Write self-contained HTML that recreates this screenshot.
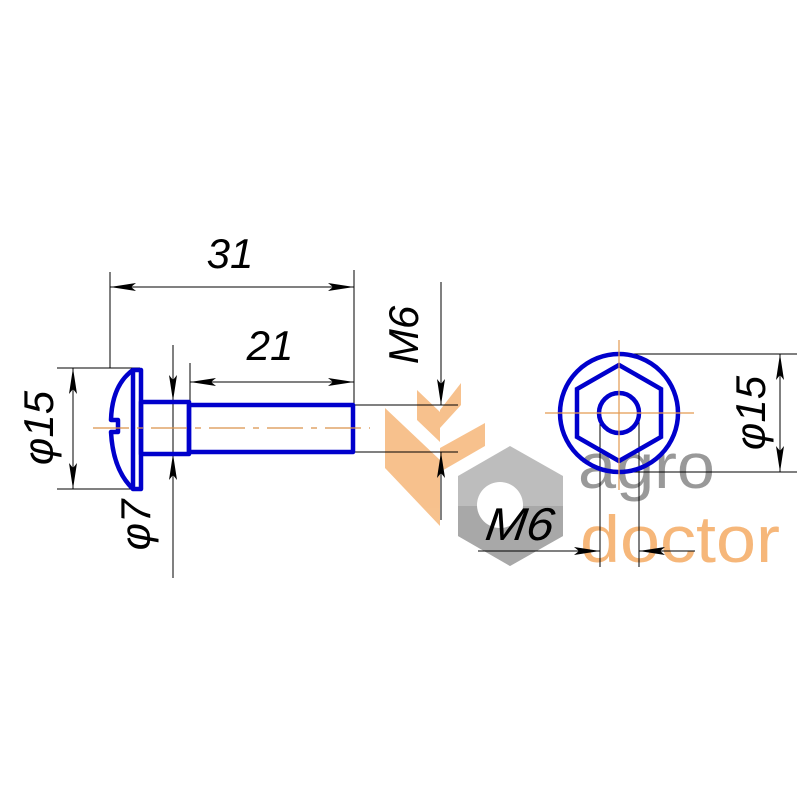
<!DOCTYPE html>
<html><head><style>html,body{margin:0;padding:0;background:#fff}svg{display:block}</style></head>
<body>
<svg width="800" height="800" viewBox="0 0 800 800" xmlns="http://www.w3.org/2000/svg" font-family="Liberation Sans, sans-serif">
<defs>
<marker id="a" viewBox="0 0 26 8" refX="26" refY="4" markerWidth="26" markerHeight="8" markerUnits="userSpaceOnUse" orient="auto"><path d="M0,0 L26,4 L0,8 L5,4Z" fill="#000"/></marker>
</defs>
<!-- watermark logo -->
<g fill="#f6b77a" opacity="0.85">
<polygon points="385,408 440,460 440,526 385,468"/>
<polygon points="440,448 485,423 485,446 440,472"/>
<polygon points="417,390 440,412 440,442 417,420"/>
<polygon points="440,410 461,383 461,405 440,428"/>
</g>
<polygon points="510,446 563,476 563,536 510,566 458,536 458,476" fill="#bdbdbd"/>
<polygon points="458,506 563,506 563,536 510,566 458,536" fill="#a8a8a8"/>
<circle cx="500" cy="505" r="23" fill="#fff"/>
<text x="0" y="0" font-size="46" font-style="italic" fill="#000" transform="translate(484,540) skewX(-8)" textLength="68" lengthAdjust="spacingAndGlyphs">M6</text>
<text x="578" y="488" font-size="64" fill="#999" textLength="137" lengthAdjust="spacingAndGlyphs">agro</text>
<text x="580" y="562" font-size="66" fill="#f6b77a" textLength="200" lengthAdjust="spacingAndGlyphs">doctor</text>

<g stroke="#000" stroke-width="1" fill="none">
<!-- 31 -->
<line x1="110" y1="272" x2="110" y2="368"/>
<line x1="354" y1="270" x2="354" y2="405"/>
<line x1="110" y1="287" x2="354" y2="287" marker-end="url(#a)"/>
<line x1="354" y1="287" x2="110" y2="287" marker-end="url(#a)"/>
<!-- 21 -->
<line x1="190" y1="363" x2="190" y2="401"/>
<line x1="190" y1="382" x2="354" y2="382" marker-end="url(#a)"/>
<line x1="354" y1="382" x2="190" y2="382" marker-end="url(#a)"/>
<!-- phi15 left -->
<line x1="57" y1="368" x2="140" y2="368"/>
<line x1="57" y1="489" x2="140" y2="489"/>
<line x1="73" y1="428" x2="73" y2="368" marker-end="url(#a)"/>
<line x1="73" y1="428" x2="73" y2="489" marker-end="url(#a)"/>
<!-- phi7 -->
<line x1="173" y1="345" x2="173" y2="578"/>
<line x1="173" y1="345" x2="173" y2="401" marker-end="url(#a)"/>
<line x1="173" y1="520" x2="173" y2="454" marker-end="url(#a)"/>
<!-- M6 left -->
<line x1="354" y1="405" x2="458" y2="405"/>
<line x1="354" y1="452" x2="458" y2="452"/>
<line x1="441" y1="282" x2="441" y2="405" marker-end="url(#a)"/>
<line x1="441" y1="520" x2="441" y2="452" marker-end="url(#a)"/>
<!-- right phi15 -->
<line x1="619" y1="354" x2="797" y2="354"/>
<line x1="619" y1="472" x2="797" y2="472"/>
<line x1="780" y1="413" x2="780" y2="354" marker-end="url(#a)"/>
<line x1="780" y1="413" x2="780" y2="472" marker-end="url(#a)"/>
<!-- right M6 -->
<line x1="600" y1="413" x2="600" y2="567"/>
<line x1="639" y1="413" x2="639" y2="567"/>
<line x1="478" y1="551" x2="600" y2="551" marker-end="url(#a)"/>
<line x1="695" y1="551" x2="639" y2="551" marker-end="url(#a)"/>
</g>
<!-- bolt -->
<g stroke="#0000cc" stroke-width="4.5" fill="none" stroke-linejoin="round">
<rect x="133" y="370" width="8" height="119"/>
<path d="M133,370 Q112,385 111,420 L118,420 L118,432 L111,432 Q113,470 133,489"/>
<rect x="141" y="402" width="48" height="52"/>
<rect x="189" y="405" width="164" height="47"/>
</g>
<line x1="93" y1="428" x2="370" y2="428" stroke="#d9924a" stroke-width="1.2" stroke-dasharray="36,8,6,8"/>
<!-- right view -->
<g stroke="#0000cc" stroke-width="4.5" fill="none">
<circle cx="619" cy="413" r="59"/>
<polygon points="619,365 661,389 661,437 619,461 577,437 577,389"/>
<circle cx="619" cy="413" r="20"/>
</g>
<g stroke="#e39a50" stroke-width="1.2">
<line x1="545" y1="413" x2="694" y2="413"/>
<line x1="619" y1="340" x2="619" y2="490"/>
</g>
<g font-size="42" font-style="italic" fill="#000">
<text x="230" y="268" text-anchor="middle">31</text>
<text x="270" y="360" text-anchor="middle">21</text>
<text transform="translate(53,428) rotate(-90)" text-anchor="middle">φ15</text>
<text transform="translate(150,525) rotate(-90)" text-anchor="middle">φ7</text>
<text transform="translate(418,335) rotate(-90)" text-anchor="middle">M6</text>
<text transform="translate(765,413) rotate(-90)" text-anchor="middle">φ15</text>
</g>
</svg>
</body></html>
